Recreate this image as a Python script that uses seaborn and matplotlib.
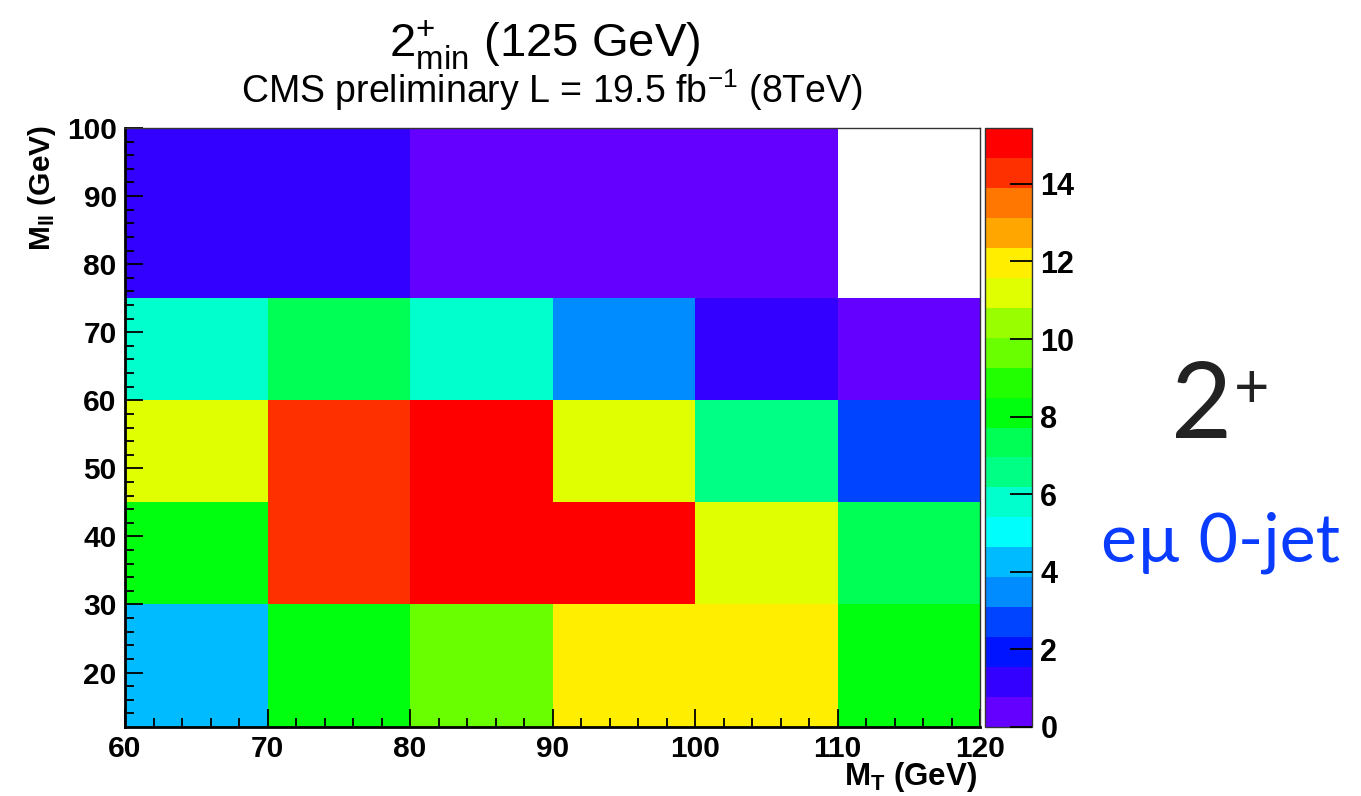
import colorsys
import numpy as np
import pandas as pd
import matplotlib
matplotlib.use("Agg")
import matplotlib.pyplot as plt
from matplotlib.colors import ListedColormap
import seaborn as sns

# ---------------- data ----------------
mt_edges = [60, 70, 80, 90, 100, 110, 120]          # M_T bin edges (GeV)
mll_edges = [12, 30, 45, 60, 75, 100]               # M_ll bin edges (GeV)
# bin contents, one list per M_ll row (bottom to top), one value per M_T bin
z_mll_12_30 = [4.2, 8.1, 9.7, 12.0, 12.1, 8.0]
z_mll_30_45 = [8.0, 14.5, 15.44, 15.2, 11.2, 7.2]
z_mll_45_60 = [11.1, 14.4, 15.1, 11.0, 6.6, 2.7]
z_mll_60_75 = [5.8, 7.3, 5.7, 3.5, 1.2, 0.4]
# top row (75-100) uses merged M_T bins
top_mt_edges = [60, 80, 110, 120]
z_mll_75_100 = [1.2, 0.4, np.nan]
z_max = 15.44
n_levels = 20
x_ticks = [60, 70, 80, 90, 100, 110, 120]
y_ticks = [20, 30, 40, 50, 60, 70, 80, 90, 100]
cbar_ticks = [0, 2, 4, 6, 8, 10, 12, 14]

# ---------------- expand variable bins onto a fine grid ----------------
rows_lo = [z_mll_12_30, z_mll_30_45, z_mll_45_60, z_mll_60_75]
y_centers = np.arange(mll_edges[-1] - 0.5, mll_edges[0], -1.0)   # top first
x_centers = np.arange(mt_edges[0] + 5, mt_edges[-1], 10.0)
grid = np.full((len(y_centers), len(x_centers)), np.nan)
for i, yc in enumerate(y_centers):
    r = np.searchsorted(mll_edges, yc) - 1
    for j, xc in enumerate(x_centers):
        if r < len(rows_lo):
            c = np.searchsorted(mt_edges, xc) - 1
            grid[i, j] = rows_lo[r][c]
        else:
            c = np.searchsorted(top_mt_edges, xc) - 1
            grid[i, j] = z_mll_75_100[c]
df = pd.DataFrame(grid, index=y_centers, columns=x_centers)

# ROOT "pretty" palette, 20 contour levels
cols = []
for k in range(n_levels):
    idx = int((k + 0.99) * 50 / n_levels)
    hue = 280 - (idx + 1) * 280 / 50
    cols.append(colorsys.hls_to_rgb(hue / 360.0, 0.5, 1.0))
cmap = ListedColormap(cols)

# ---------------- plot ----------------
sns.set_theme(style="white")
plt.rcParams["font.family"] = ["Liberation Sans", "DejaVu Sans"]
plt.rcParams["mathtext.fontset"] = "custom"
plt.rcParams["mathtext.rm"] = "Liberation Sans"
plt.rcParams["mathtext.it"] = "Liberation Sans:italic"
plt.rcParams["mathtext.bf"] = "Liberation Sans:bold"
plt.rcParams["axes.axisbelow"] = False
plt.rcParams["text.color"] = "black"
plt.rcParams["xtick.color"] = "black"
plt.rcParams["ytick.color"] = "black"
plt.rcParams["xtick.labelcolor"] = "black"
plt.rcParams["ytick.labelcolor"] = "black"

W, H = 1361, 796
fig = plt.figure(figsize=(W / 100, H / 100), dpi=100)
fig.patch.set_facecolor("white")
ax = fig.add_axes([125 / W, 1 - 727 / H, 855 / W, 599 / H])
cax = fig.add_axes([985 / W, 1 - 727 / H, 47 / W, 599 / H])

sns.heatmap(df, ax=ax, cbar_ax=cax, cmap=cmap, vmin=0, vmax=z_max,
            xticklabels=False, yticklabels=False, linewidths=0,
            rasterized=True)
ax.set_axisbelow(False)
cax.set_axisbelow(False)

nrow = len(y_centers)
def xpos(v):
    return (v - mt_edges[0]) / 10.0
def ypos(v):
    return mll_edges[-1] - v

ax.set_xlim(0, len(x_centers))
ax.set_ylim(nrow, 0)
ax.set_xticks([xpos(v) for v in x_ticks])
ax.set_xticklabels([str(v) for v in x_ticks], fontsize=21.5, fontweight="bold",
                   color="black")
ax.set_xticks([xpos(v) for v in range(62, 120, 2) if v % 10], minor=True)
ax.set_yticks([ypos(v) for v in y_ticks])
ax.set_yticklabels([str(v) for v in y_ticks], fontsize=21.5, fontweight="bold",
                   color="black")
ax.set_yticks([ypos(v) for v in range(14, 100, 2) if v % 10], minor=True)
ax.tick_params(which="both", direction="in", color="black", width=1.3,
               bottom=True, left=True, top=False, right=False)
ax.tick_params(which="major", length=13, pad=6)
ax.tick_params(which="minor", length=6.5)
ax.set_xlabel("")
ax.set_ylabel("")
for side, sp in ax.spines.items():
    sp.set_visible(True)
    sp.set_zorder(5)
    if side in ("left", "bottom"):
        sp.set_linewidth(2.0)
        sp.set_color("black")
    else:
        sp.set_linewidth(1.0)
        sp.set_color("#333333")

cb = ax.collections[0].colorbar
cb.set_ticks(cbar_ticks)
cax.tick_params(direction="in", length=16, width=1.3, color="black",
                labelsize=22, labelcolor="black", pad=6, right=True, left=False)
for t in cax.get_yticklabels():
    t.set_fontweight("bold")
cb.outline.set_linewidth(1.0)
cb.outline.set_edgecolor("#333333")

fig.text(545 / W, 1 - 45 / H, r"$2^{+}_{\mathrm{min}}$ (125 GeV)",
         ha="center", va="center", fontsize=34, color="black")
fig.text(552 / W, 1 - 90 / H, r"CMS preliminary L = 19.5 fb$^{-1}$ (8TeV)",
         ha="center", va="center", fontsize=27, color="black")
fig.text(42 / W, 1 - 125 / H, r"$\mathbf{M_{ll}}$ (GeV)", rotation=90,
         ha="center", va="top", fontsize=21.5, fontweight="bold", color="black")
fig.text(977 / W, 1 - 777 / H, r"$\mathbf{M_{T}}$ (GeV)",
         ha="right", va="center", fontsize=22.5, fontweight="bold", color="black")

fig.text(1202 / W, 1 - 408 / H, "2", ha="center", va="center",
         fontsize=76, color="#222222", family=["Lato", "DejaVu Sans"])
fig.text(1252 / W, 1 - 390 / H, "+", ha="center", va="center",
         fontsize=44, color="#222222", family=["Lato", "DejaVu Sans"])
fig.text(1221 / W, 1 - 543 / H, "e\u00b5 0-jet", ha="center", va="center",
         fontsize=49, color="#0a3cff", family=["Lato", "DejaVu Sans"])

fig.savefig("out.png", dpi=100, facecolor="white")
